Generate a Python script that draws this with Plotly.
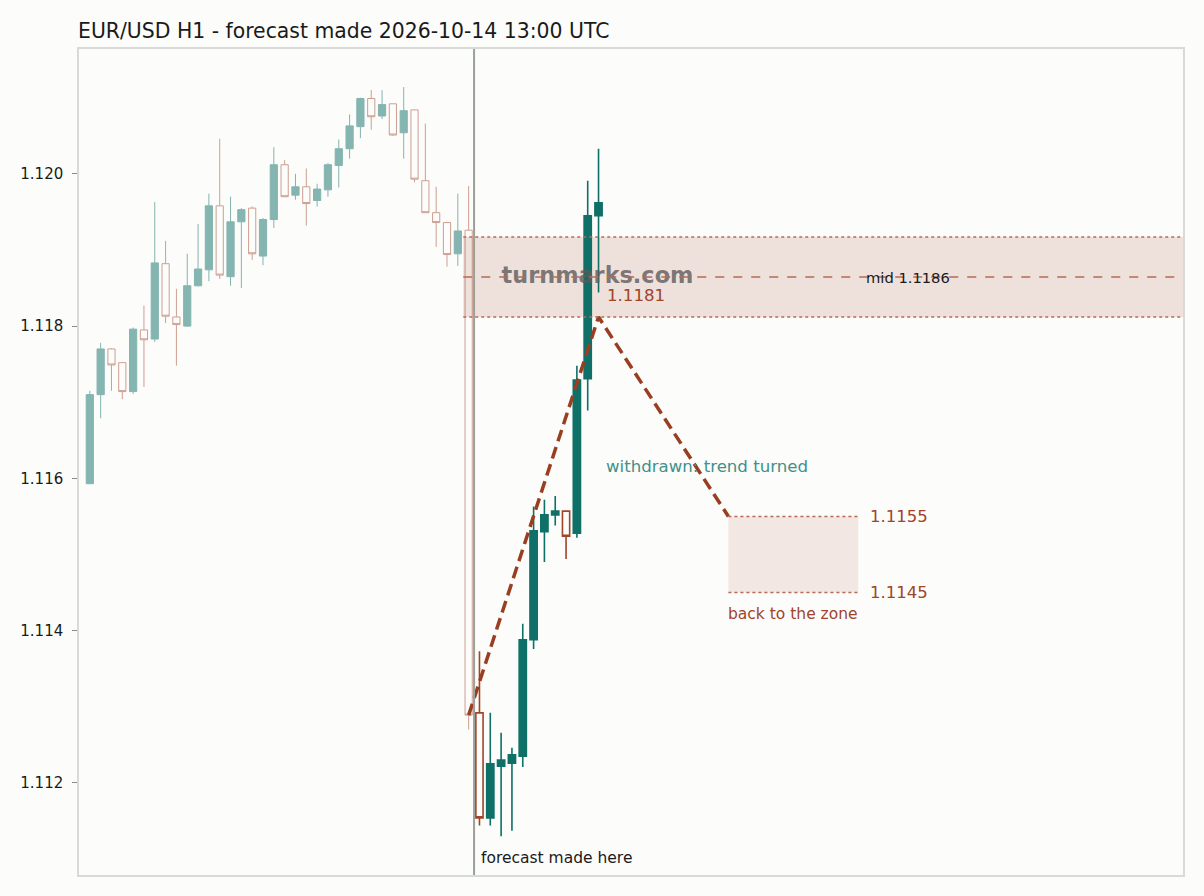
import plotly.graph_objects as go

# ---------------- data ----------------
hist_open = [1.11593, 1.11710, 1.11770, 1.11752, 1.11714, 1.11795, 1.11783, 1.11882, 1.11812, 1.11800,
             1.11853, 1.11874, 1.11958, 1.11865, 1.11937, 1.11955, 1.11892, 1.11940, 1.12012, 1.11972,
             1.11983, 1.11965, 1.11979, 1.12011, 1.12033, 1.12062, 1.12099, 1.12076, 1.12092, 1.12054,
             1.12084, 1.11991, 1.11949, 1.11936, 1.11895, 1.11926]
hist_high = [1.11715, 1.11778, 1.11771, 1.11752, 1.11798, 1.11827, 1.11963, 1.11912, 1.11849, 1.11895,
             1.11934, 1.11974, 1.12046, 1.11970, 1.11955, 1.11957, 1.11942, 1.12035, 1.12018, 1.12000,
             1.12007, 1.11987, 1.12014, 1.12045, 1.12078, 1.12100, 1.12110, 1.12110, 1.12092, 1.12114,
             1.12084, 1.12066, 1.11983, 1.11936, 1.11974, 1.11984]
hist_low = [1.11593, 1.11679, 1.11715, 1.11704, 1.11711, 1.11720, 1.11779, 1.11804, 1.11748, 1.11799,
            1.11852, 1.11859, 1.11862, 1.11853, 1.11850, 1.11887, 1.11880, 1.11929, 1.11970, 1.11966,
            1.11932, 1.11957, 1.11970, 1.11982, 1.12020, 1.12047, 1.12058, 1.12072, 1.12050, 1.12020,
            1.11989, 1.11949, 1.11904, 1.11878, 1.11879, 1.11270]
hist_close = [1.11710, 1.11770, 1.11749, 1.11714, 1.11796, 1.11782, 1.11883, 1.11813, 1.11802, 1.11853,
              1.11875, 1.11958, 1.11867, 1.11937, 1.11953, 1.11895, 1.11940, 1.12012, 1.11970, 1.11983,
              1.11961, 1.11980, 1.12012, 1.12033, 1.12063, 1.12099, 1.12075, 1.12091, 1.12051, 1.12083,
              1.11993, 1.11949, 1.11936, 1.11894, 1.11925, 1.11289]

after_open = [1.11292, 1.11154, 1.11222, 1.11226, 1.11235, 1.11388, 1.11530, 1.11552, 1.11557, 1.11528, 1.11731, 1.11945]
after_high = [1.11373, 1.11292, 1.11266, 1.11246, 1.11409, 1.11563, 1.11572, 1.11577, 1.11557, 1.11748, 1.11991, 1.12033]
after_low = [1.11144, 1.11144, 1.11130, 1.11137, 1.11221, 1.11376, 1.11490, 1.11538, 1.11494, 1.11522, 1.11689, 1.11844]
after_close = [1.11154, 1.11225, 1.11230, 1.11237, 1.11388, 1.11531, 1.11552, 1.11557, 1.11524, 1.11729, 1.11945, 1.11962]

forecast_x = [35, 47, 59]
forecast_y = [1.11289, 1.11812, 1.1155]

zone_top = 1.11917
zone_bottom = 1.11812
zone_mid = (zone_top + zone_bottom) / 2
zone_start = 34.5

target_top = 1.1155
target_bottom = 1.1145
target_x0, target_x1 = 59, 71

forecast_time_x = 35.5
x_range = [-1, 101]
y_range = [1.11079, 1.12164]
y_ticks = [1.112, 1.114, 1.116, 1.118, 1.120]

title_text = "EUR/USD H1 - forecast made 2026-10-14 13:00 UTC"

# ---------------- style ----------------
TEAL = "#0f7068"
BROWN = "#a0442a"
BG = "#fcfcfa"
BORDER = "#d6dbd6"
FONT = "DejaVu Sans"

hist_x = list(range(len(hist_open)))
after_x = list(range(len(hist_open), len(hist_open) + len(after_open)))

fig = go.Figure()

# watermark (drawn below candles)
fig.add_trace(go.Scatter(
    x=[46.9], y=[zone_mid], mode="text", text=["<b>turnmarks.com</b>"],
    textfont=dict(family=FONT, size=22.4, color="rgba(90,90,90,0.8)"),
    hoverinfo="skip", showlegend=False))

fig.add_trace(go.Candlestick(
    x=hist_x, open=hist_open, high=hist_high, low=hist_low, close=hist_close,
    increasing=dict(line=dict(color=TEAL, width=1), fillcolor=TEAL),
    decreasing=dict(line=dict(color=BROWN, width=1), fillcolor="rgba(0,0,0,0)"),
    opacity=0.5, whiskerwidth=0, showlegend=False))

fig.add_trace(go.Candlestick(
    x=after_x, open=after_open, high=after_high, low=after_low, close=after_close,
    increasing=dict(line=dict(color=TEAL, width=1.6), fillcolor=TEAL),
    decreasing=dict(line=dict(color=BROWN, width=1.6), fillcolor="rgba(0,0,0,0)"),
    whiskerwidth=0, showlegend=False))

fig.add_trace(go.Scatter(
    x=forecast_x, y=forecast_y, mode="lines",
    line=dict(color="#9a3e22", width=3.5, dash="12px,6px"),
    hoverinfo="skip", showlegend=False))

# zone band
fig.add_shape(type="rect", xref="x", yref="y", x0=zone_start, x1=x_range[1],
              y0=zone_bottom, y1=zone_top, fillcolor="rgba(160,68,42,0.15)",
              line=dict(width=0), layer="below")
for yv, dash in [(zone_top, "dot"), (zone_bottom, "dot"), (zone_mid, "dash")]:
    fig.add_shape(type="line", xref="x", yref="y", x0=zone_start, x1=x_range[1],
                  y0=yv, y1=yv, line=dict(color="#b56a55", width=1.5, dash=dash), layer="above")

# target zone
fig.add_shape(type="rect", xref="x", yref="y", x0=target_x0, x1=target_x1,
              y0=target_bottom, y1=target_top, fillcolor="rgba(160,68,42,0.11)",
              line=dict(width=0), layer="below")
for yv in [target_top, target_bottom]:
    fig.add_shape(type="line", xref="x", yref="y", x0=target_x0, x1=target_x1,
                  y0=yv, y1=yv, line=dict(color="#b56a55", width=1.5, dash="dot"))

# forecast time line
fig.add_shape(type="line", xref="x", yref="paper", x0=forecast_time_x, x1=forecast_time_x,
              y0=0, y1=1, line=dict(color="#9ba09b", width=2))

def note(x, y, text, color, size, yref="y"):
    fig.add_annotation(x=x, y=y, xref="x", yref=yref, text=text, showarrow=False,
                       xanchor="left", yanchor="middle",
                       font=dict(family=FONT, size=size, color=color))

note(47.6, 1.11840, f"{zone_bottom:.4f}", BROWN, 16.6)
note(71.5, zone_mid, f"mid {zone_mid:.4f}", "#1a1a1a", 14.7)
note(47.5, 1.11616, "withdrawn: trend turned", "#3f918a", 16.6)
note(71.9, target_top, f"{target_top:.4f}", BROWN, 16.5)
note(71.9, target_bottom, f"{target_bottom:.4f}", BROWN, 16.5)
note(58.8, 1.11422, "back to the zone", BROWN, 15.5)
note(36.0, 0.021, "forecast made here", "#1a1a1a", 15.5, yref="paper")

fig.add_annotation(x=0, y=1, xref="paper", yref="paper", text=title_text, showarrow=False,
                   xanchor="left", yanchor="bottom", yshift=4, xshift=-3,
                   font=dict(family=FONT, size=20.4, color="#1a1a1a"))

fig.update_layout(
    width=1204, height=896,
    margin=dict(l=79, r=21, t=49, b=21),
    paper_bgcolor=BG, plot_bgcolor=BG,
    font=dict(family=FONT, size=14, color="#1a1a1a"),
    showlegend=False, boxgap=0.05,
    xaxis=dict(range=x_range, showgrid=False, zeroline=False, showticklabels=False,
               ticks="", showline=True, mirror=True, linecolor=BORDER, linewidth=1.5,
               rangeslider=dict(visible=False), fixedrange=True),
    yaxis=dict(range=y_range, showgrid=False, zeroline=False, tickvals=y_ticks,
               tickformat=".3f", ticks="outside", ticklen=5, tickcolor="#888888",
               ticklabelstandoff=6,
               showline=True, mirror=True, linecolor=BORDER, linewidth=1.5,
               tickfont=dict(family=FONT, size=15, color="#1a1a1a")),
)

fig.write_html("out.html")
